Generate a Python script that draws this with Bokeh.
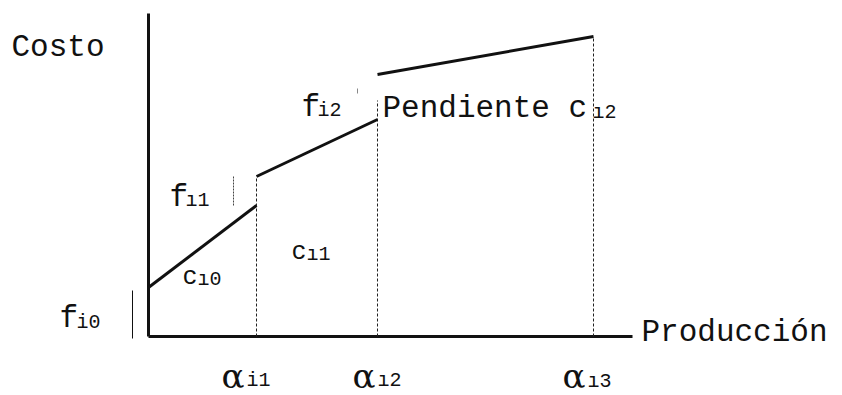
from bokeh.plotting import figure
from bokeh.models import Range1d, ColumnDataSource
from bokeh.core.properties import value
from bokeh.embed import file_html
from bokeh.resources import INLINE

# ---- data (production units / cost units) ----
breakpoints = [10.8, 22.9, 44.5]          # alpha_i1, alpha_i2, alpha_i3
seg_start_x = [0.0, 10.8, 22.9]
seg_end_x = [10.8, 22.9, 44.5]
seg_start_cost = [4.9, 16.0, 26.2]        # cost after fixed charge f_i0, f_i1, f_i2
seg_end_cost = [13.1, 21.7, 30.0]         # cost at end of each segment
dash_top = [16.0, 23.6, 30.0]             # top of the dotted guide at each breakpoint
axis_x_max = 48.4
axis_y_max = 32.3

main_labels = ["Costo", "Producción", "Pendiente c"]
main_label_x = [-13.7, 49.3, 23.4]
main_label_y = [28.9, 0.4, 22.8]

f_labels = ["f", "f", "f"]
f_subs = ["i0", "ı1", "i2"]
f_x = [-8.9, 2.1, 15.3]
f_y = [1.8, 13.9, 22.9]
f_sub_x = [-7.2, 3.7, 16.9]
f_sub_y = [1.4, 13.6, 22.6]

c_labels = ["c", "c"]
c_subs = ["ı0", "ı1"]
c_x = [3.4, 14.3]
c_y = [5.9, 8.4]
c_sub_x = [4.9, 15.8]
c_sub_y = [5.7, 8.2]

pend_sub = ["ı2"]
pend_sub_x = [44.4]
pend_sub_y = [22.4]

alpha_labels = ["α", "α", "α"]
alpha_subs = ["i1", "ı2", "ı3"]
alpha_x = [7.3, 20.4, 41.4]
alpha_y = [-3.9, -3.9, -3.9]
alpha_sub_x = [9.8, 22.9, 43.9]
alpha_sub_y = [-4.4, -4.4, -4.5]

# ---- figure ----
W, H = 842, 395
p = figure(width=W, height=H, output_backend="svg", toolbar_location=None,
           x_range=Range1d(-14.8, -14.8 + W / 10.0),
           y_range=Range1d(33.6 - H / 10.0, 33.6),
           min_border=0)
p.axis.visible = False
p.grid.visible = False
p.outline_line_color = None
p.background_fill_color = "white"
p.border_fill_color = "white"

ink = "#111111"

# axes drawn as lines
p.segment(x0=[0, 0], y0=[0, 0], x1=[0, axis_x_max], y1=[axis_y_max, 0],
          line_width=3, line_color=ink)

# dotted guides at the breakpoints
p.segment(x0=breakpoints, y0=[0, 0, 0], x1=breakpoints, y1=dash_top,
          line_width=1, line_color="#222222", line_dash="3 2")

# cost segments
src = ColumnDataSource(dict(x0=seg_start_x, y0=seg_start_cost, x1=seg_end_x, y1=seg_end_cost))
p.segment(x0="x0", y0="y0", x1="x1", y1="y1", source=src, line_width=3, line_color=ink)

# fixed-charge markers
p.segment(x0=[-1.6], y0=[-0.2], x1=[-1.6], y1=[4.6], line_width=1, line_color=ink)
p.segment(x0=[8.5], y0=[13.1], x1=[8.5], y1=[16.1], line_width=1, line_color="#444444",
          line_dash="2 1")
p.segment(x0=[20.9], y0=[24.3], x1=[20.9], y1=[24.8], line_width=1, line_color="#888888")

mono = value("Liberation Mono")

p.text(x=main_label_x, y=main_label_y, text=main_labels, text_font=mono,
       text_font_size="31px", text_color=ink, text_baseline="alphabetic", text_align="left")
p.text(x=f_x, y=f_y, text=f_labels, text_font=mono,
       text_font_size="31px", text_color=ink, text_baseline="alphabetic", text_align="left")
p.text(x=f_sub_x, y=f_sub_y, text=f_subs, text_font=mono,
       text_font_size="20px", text_color=ink, text_baseline="alphabetic", text_align="left")
p.text(x=c_x, y=c_y, text=c_labels, text_font=mono,
       text_font_size="25px", text_color=ink, text_baseline="alphabetic", text_align="left")
p.text(x=c_sub_x, y=c_sub_y, text=c_subs, text_font=mono,
       text_font_size="20px", text_color=ink, text_baseline="alphabetic", text_align="left")
p.text(x=pend_sub_x, y=pend_sub_y, text=pend_sub, text_font=mono,
       text_font_size="20px", text_color=ink, text_baseline="alphabetic", text_align="left")
p.text(x=alpha_x, y=alpha_y, text=alpha_labels, text_font=value("DejaVu Serif"),
       text_font_size="34px", text_color=ink, text_baseline="alphabetic", text_align="left")
p.text(x=alpha_sub_x, y=alpha_sub_y, text=alpha_subs, text_font=mono,
       text_font_size="20px", text_color=ink, text_baseline="alphabetic", text_align="left")

open("out.html", "w").write(file_html(p, INLINE))
